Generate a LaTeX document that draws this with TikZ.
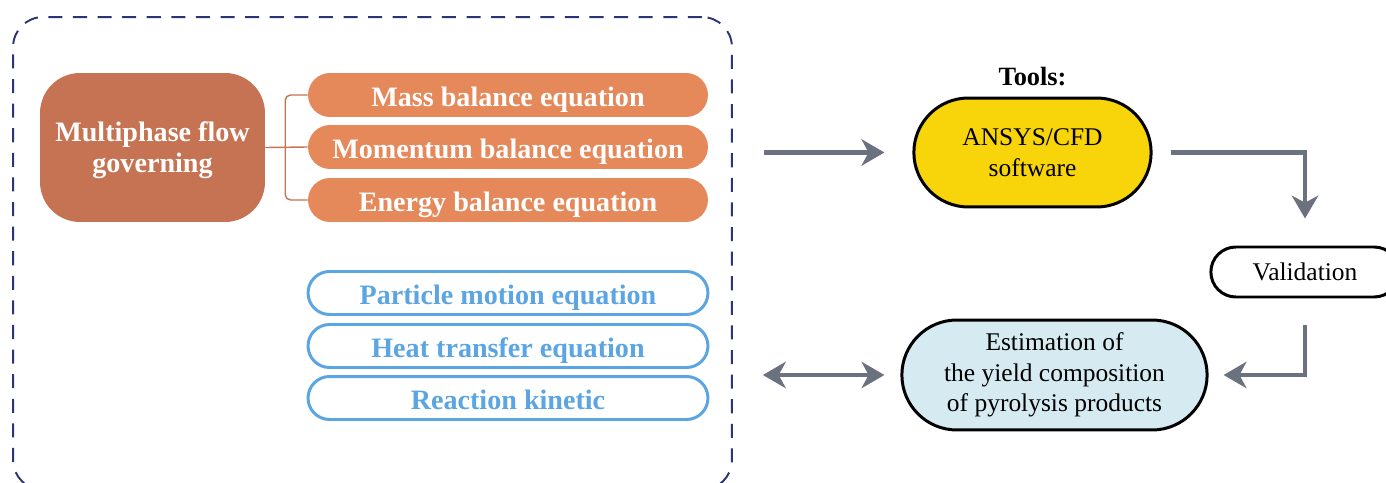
\documentclass[tikz,border=0pt]{standalone}
\usepackage{fontspec}
\setmainfont{Liberation Serif}
\usetikzlibrary{positioning,arrows.meta,shapes.misc,calc}

\definecolor{mpbrown}{HTML}{C57352}
\definecolor{eqorange}{HTML}{E5885A}
\definecolor{subblue}{HTML}{5AA5E2}
\definecolor{framenavy}{HTML}{2B3572}
\definecolor{toolyellow}{HTML}{F7D50A}
\definecolor{estblue}{HTML}{D5EAF1}
\definecolor{arrgray}{HTML}{6B717E}

\begin{document}
\begin{tikzpicture}[
  x=0.02cm, y=-0.02cm,
  >={Stealth[length=13pt,width=15pt,inset=4pt]},
  bfont/.style={font=\fontsize{16}{17.6}\selectfont\bfseries},
  rfont/.style={font=\fontsize{14.5}{17.4}\selectfont},
  pill/.style={rounded rectangle, minimum width=8cm, minimum height=0.88cm, inner sep=0pt,
               text height=12.8pt, text depth=0pt, bfont},
  eqn/.style={pill, fill=eqorange, text=white},
  sub/.style={pill, draw=subblue, line width=1.7pt, fill=white, text=subblue, minimum height=0.86cm},
  tool/.style={rounded rectangle, draw=black, line width=1.7pt, align=center, rfont},
  brl/.style={draw=mpbrown, line width=0.8pt, rounded corners=3pt},
  garr/.style={->, draw=arrgray, line width=2.3pt}
]
\useasboundingbox (0,0) rectangle (1386,483);
% ---------------- model frame
\node[draw=framenavy, line width=1.1pt, dash pattern=on 8pt off 6pt, rounded corners=0.6cm,
      minimum width=14.38cm, minimum height=9.46cm, inner sep=0pt] (frame) at (372.5,253.5) {};
% ---------------- governing equations
\node[fill=mpbrown, text=white, rounded corners=0.8cm, minimum width=4.5cm, minimum height=2.98cm,
      align=center, text depth=0pt, bfont] (mp) at (152.5,147.5) {Multiphase flow\\ governing};
\node[eqn] (m1) at (508, 95) {Mass balance equation};
\node[eqn] (m2) at (508,147) {Momentum balance equation};
\node[eqn] (m3) at (508,200) {Energy balance equation};
\coordinate (jn) at ($(mp.east)!0.47!(m2.west)$);
\draw[brl] (mp.east) -- (m2.west);
\foreach \i in {1,3} { \draw[brl] (jn) |- (m\i.west); }
% ---------------- submodels
\node[sub] (s1) at (508,293) {Particle motion equation};
\node[sub] (s2) at (508,346) {Heat transfer equation};
\node[sub] (s3) at (508,398) {Reaction kinetic};
% ---------------- tools and results
\node[tool, fill=toolyellow, minimum width=4.98cm, minimum height=2.18cm] (ansys) at (1032.5,152.5)
  {ANSYS/CFD\\ software};
\node[font=\fontsize{15}{16}\selectfont\bfseries, above=0.08cm of ansys] (tools) {Tools:};
\node[tool, fill=white, minimum width=4.0cm, minimum height=1.0cm] (val) at (1305,272) {Validation};
\node[tool, fill=estblue, minimum width=6.34cm, minimum height=2.2cm] (est) at (1054.5,375)
  {Estimation of\\ the yield composition\\ of pyrolysis products};
% ---------------- arrows
\draw[garr] ([xshift=0.62cm]frame.east |- ansys.west) -- ([xshift=-0.56cm]ansys.west);
\draw[garr] ([xshift=0.36cm]ansys.east) -| ([yshift=0.54cm]val.north);
\draw[garr] ([yshift=-0.54cm]val.south) |- ([xshift=0.3cm]est.east);
\draw[garr, <->] ([xshift=0.6cm]frame.east |- est.west) -- ([xshift=-0.32cm]est.west);
\end{tikzpicture}
\end{document}
